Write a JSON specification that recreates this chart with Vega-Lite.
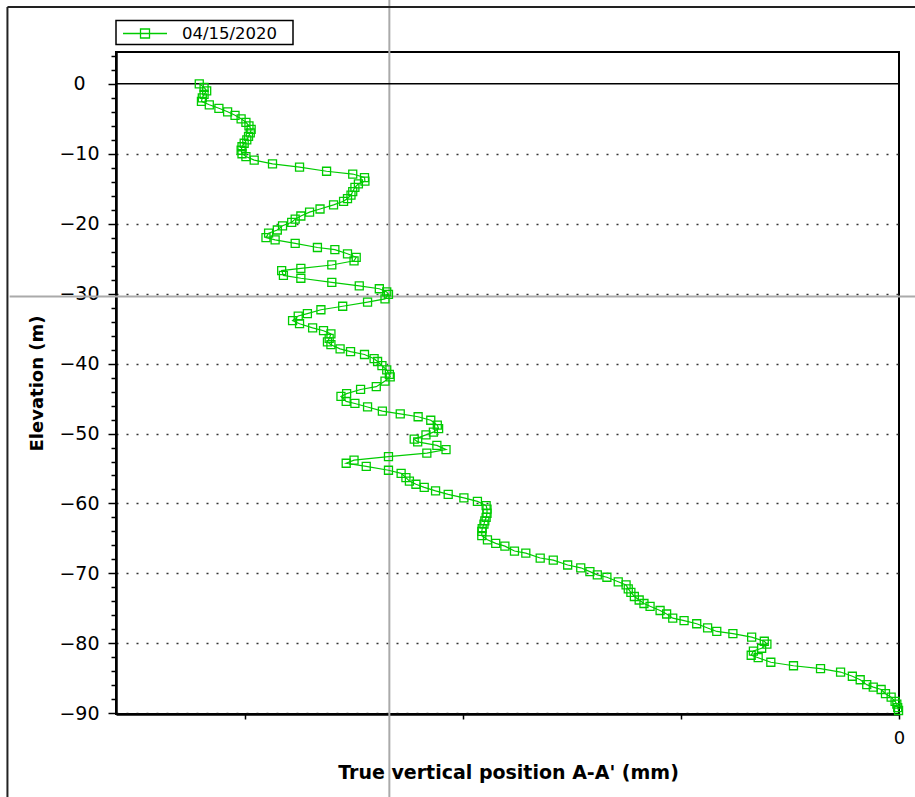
{
  "$schema": "https://vega.github.io/schema/vega-lite/v6.json",
  "width": 783,
  "height": 662,
  "autosize": {"type": "none"},
  "padding": {"left": 116, "top": 52, "right": 16, "bottom": 83},
  "background": "white",
  "config": {
    "view": {"stroke": "black", "strokeWidth": 2},
    "font": "DejaVu Sans",
    "legend": {"strokeWidth": 1.5},
    "axisX": {
      "labelFont": "DejaVu Sans",
      "labelFontSize": 18,
      "labelColor": "black",
      "labelPadding": 10,
      "labelFlush": false,
      "labelOverlap": false,
      "tickColor": "black",
      "tickWidth": 1.5,
      "domainColor": "black",
      "domainWidth": 2.5,
      "grid": false,
      "titleFont": "DejaVu Sans",
      "titleFontWeight": "bold",
      "titleFontSize": 19,
      "titleColor": "black",
      "titleX": 392,
      "titleY": 58,
      "titleAlign": "center",
      "titleBaseline": "middle"
    },
    "axisY": {
      "labelFont": "DejaVu Sans",
      "labelFontSize": 19,
      "labelColor": "black",
      "labelAlign": "center",
      "labelBaseline": "middle",
      "labelPadding": 29,
      "labelOverlap": false,
      "labelFlush": false,
      "tickSize": {"condition": {"test": "datum.value % 10 === 0", "value": 8}, "value": 5},
      "tickColor": "black",
      "tickWidth": 1.5,
      "domainColor": "black",
      "domainWidth": 2.5,
      "grid": true,
      "gridColor": "#333333",
      "gridDash": [2, 8],
      "gridWidth": 1.5,
      "gridOpacity": {"condition": {"test": "datum.value % 10 !== 0 || datum.value === 0", "value": 0}, "value": 1},
      "titleFont": "DejaVu Sans",
      "titleFontWeight": "bold",
      "titleFontSize": 18,
      "titleColor": "black",
      "titleAngle": -90,
      "titleX": -79,
      "titleY": 331,
      "titleAlign": "center",
      "titleBaseline": "middle"
    }
  },
  "data": {"values": [{"note": "reference lines"}]},
  "layer": [
    {
      "mark": {"type": "rule", "color": "#aaaaaa", "strokeWidth": 2, "clip": false},
      "encoding": {
        "x": {"datum": -11.69, "type": "quantitative", "scale": {"domain": [-17.96, 0], "nice": false, "zero": false}, "axis": {"orient": "bottom", "title": "True vertical position A-A' (mm)", "values": [-15, -10, -5, 0], "tickCount": 100, "labelExpr": "datum.value === 0 ? '0' : ''", "tickSize": 5}},
        "y": {"datum": 13, "type": "quantitative", "scale": {"domain": [-90.1, 4.55], "nice": false, "zero": false}, "axis": {"orient": "left", "title": "Elevation (m)", "tickCount": 100, "values": [4, 2, 0, -2, -4, -6, -8, -10, -12, -14, -16, -18, -20, -22, -24, -26, -28, -30, -32, -34, -36, -38, -40, -42, -44, -46, -48, -50, -52, -54, -56, -58, -60, -62, -64, -66, -68, -70, -72, -74, -76, -78, -80, -82, -84, -86, -88, -90], "labelExpr": "datum.value % 10 === 0 ? datum.label : ''"}},
        "y2": {"datum": -110}
      }
    },
    {
      "mark": {"type": "rule", "color": "#aaaaaa", "strokeWidth": 2, "clip": false},
      "encoding": {
        "y": {"datum": -30.39, "type": "quantitative"},
        "x": {"datum": -20.4, "type": "quantitative"},
        "x2": {"datum": 0.5}
      }
    },
    {
      "mark": {"type": "rule", "color": "#222222", "strokeWidth": 2, "clip": false},
      "encoding": {
        "x": {"datum": -20.45, "type": "quantitative"},
        "y": {"datum": 10.98, "type": "quantitative"},
        "y2": {"datum": -110}
      }
    },
    {
      "mark": {"type": "rule", "color": "#222222", "strokeWidth": 2, "clip": false},
      "encoding": {
        "y": {"datum": 10.98, "type": "quantitative"},
        "x": {"datum": -20.45, "type": "quantitative"},
        "x2": {"datum": 1}
      }
    },
    {
      "mark": {"type": "rule", "color": "black", "strokeWidth": 1.5},
      "encoding": {"y": {"datum": 0, "type": "quantitative"}}
    },
    {
      "data": {
        "values": [
          {"elevation": 0, "position": -16.05},
          {"elevation": -0.5, "position": -15.94},
          {"elevation": -1.0, "position": -15.88},
          {"elevation": -1.5, "position": -15.94},
          {"elevation": -2.0, "position": -15.98},
          {"elevation": -2.5, "position": -16.0},
          {"elevation": -3.0, "position": -15.82},
          {"elevation": -3.5, "position": -15.6},
          {"elevation": -4.0, "position": -15.4},
          {"elevation": -4.5, "position": -15.23},
          {"elevation": -5.0, "position": -15.09},
          {"elevation": -5.5, "position": -14.98},
          {"elevation": -6.0, "position": -14.91},
          {"elevation": -6.5, "position": -14.86},
          {"elevation": -7.0, "position": -14.88},
          {"elevation": -7.5, "position": -14.92},
          {"elevation": -8.0, "position": -14.96},
          {"elevation": -8.5, "position": -15.02},
          {"elevation": -9.0, "position": -15.07},
          {"elevation": -9.5, "position": -15.09},
          {"elevation": -10.0, "position": -15.07},
          {"elevation": -10.4, "position": -14.98},
          {"elevation": -10.9, "position": -14.79},
          {"elevation": -11.45, "position": -14.37},
          {"elevation": -11.9, "position": -13.75},
          {"elevation": -12.5, "position": -13.13},
          {"elevation": -12.9, "position": -12.53},
          {"elevation": -13.4, "position": -12.26},
          {"elevation": -13.9, "position": -12.25},
          {"elevation": -14.3, "position": -12.4},
          {"elevation": -14.8, "position": -12.48},
          {"elevation": -15.4, "position": -12.53},
          {"elevation": -15.9, "position": -12.57},
          {"elevation": -16.4, "position": -12.65},
          {"elevation": -16.8, "position": -12.74},
          {"elevation": -17.3, "position": -12.97},
          {"elevation": -17.9, "position": -13.28},
          {"elevation": -18.35, "position": -13.52},
          {"elevation": -18.9, "position": -13.72},
          {"elevation": -19.35, "position": -13.85},
          {"elevation": -19.8, "position": -13.93},
          {"elevation": -20.3, "position": -14.14},
          {"elevation": -20.9, "position": -14.26},
          {"elevation": -21.35, "position": -14.46},
          {"elevation": -22.0, "position": -14.52},
          {"elevation": -22.3, "position": -14.31},
          {"elevation": -22.8, "position": -13.85},
          {"elevation": -23.4, "position": -13.34},
          {"elevation": -23.7, "position": -12.94},
          {"elevation": -24.3, "position": -12.65},
          {"elevation": -24.8, "position": -12.45},
          {"elevation": -25.3, "position": -12.5},
          {"elevation": -25.9, "position": -13.01},
          {"elevation": -26.4, "position": -13.72},
          {"elevation": -26.7, "position": -14.16},
          {"elevation": -27.4, "position": -14.12},
          {"elevation": -27.8, "position": -13.72},
          {"elevation": -28.4, "position": -13.01},
          {"elevation": -28.9, "position": -12.38},
          {"elevation": -29.3, "position": -11.92},
          {"elevation": -29.75, "position": -11.75},
          {"elevation": -30.1, "position": -11.71},
          {"elevation": -30.75, "position": -11.79},
          {"elevation": -31.2, "position": -12.19},
          {"elevation": -31.8, "position": -12.76},
          {"elevation": -32.3, "position": -13.26},
          {"elevation": -32.85, "position": -13.57},
          {"elevation": -33.2, "position": -13.78},
          {"elevation": -33.85, "position": -13.91},
          {"elevation": -34.3, "position": -13.75},
          {"elevation": -34.9, "position": -13.45},
          {"elevation": -35.3, "position": -13.2},
          {"elevation": -35.75, "position": -13.03},
          {"elevation": -36.4, "position": -13.07},
          {"elevation": -36.9, "position": -13.11},
          {"elevation": -37.3, "position": -13.03},
          {"elevation": -37.9, "position": -12.82},
          {"elevation": -38.3, "position": -12.58},
          {"elevation": -38.7, "position": -12.26},
          {"elevation": -39.3, "position": -12.04},
          {"elevation": -39.7, "position": -11.96},
          {"elevation": -40.3, "position": -11.86},
          {"elevation": -40.9, "position": -11.75},
          {"elevation": -41.55, "position": -11.69},
          {"elevation": -41.9, "position": -11.67},
          {"elevation": -42.5, "position": -11.79},
          {"elevation": -43.3, "position": -11.99},
          {"elevation": -43.7, "position": -12.35},
          {"elevation": -44.3, "position": -12.67},
          {"elevation": -44.7, "position": -12.8},
          {"elevation": -45.4, "position": -12.68},
          {"elevation": -45.7, "position": -12.48},
          {"elevation": -46.2, "position": -12.19},
          {"elevation": -46.8, "position": -11.85},
          {"elevation": -47.2, "position": -11.44},
          {"elevation": -47.6, "position": -11.03},
          {"elevation": -48.1, "position": -10.74},
          {"elevation": -48.8, "position": -10.59},
          {"elevation": -49.3, "position": -10.56},
          {"elevation": -49.8, "position": -10.68},
          {"elevation": -50.2, "position": -10.85},
          {"elevation": -50.8, "position": -11.12},
          {"elevation": -51.2, "position": -11.04},
          {"elevation": -51.7, "position": -10.6},
          {"elevation": -52.3, "position": -10.39},
          {"elevation": -52.8, "position": -10.83},
          {"elevation": -53.3, "position": -11.71},
          {"elevation": -53.8, "position": -12.5},
          {"elevation": -54.25, "position": -12.68},
          {"elevation": -54.7, "position": -12.22},
          {"elevation": -55.25, "position": -11.71},
          {"elevation": -55.7, "position": -11.42},
          {"elevation": -56.3, "position": -11.31},
          {"elevation": -56.8, "position": -11.23},
          {"elevation": -57.25, "position": -11.08},
          {"elevation": -57.7, "position": -10.89},
          {"elevation": -58.2, "position": -10.63},
          {"elevation": -58.7, "position": -10.34},
          {"elevation": -59.2, "position": -9.98},
          {"elevation": -59.7, "position": -9.67},
          {"elevation": -60.3, "position": -9.47},
          {"elevation": -60.8, "position": -9.45},
          {"elevation": -61.4, "position": -9.45},
          {"elevation": -62.0, "position": -9.47},
          {"elevation": -62.5, "position": -9.5},
          {"elevation": -62.95, "position": -9.52},
          {"elevation": -63.6, "position": -9.56},
          {"elevation": -64.0, "position": -9.57},
          {"elevation": -64.6, "position": -9.57},
          {"elevation": -65.2, "position": -9.44},
          {"elevation": -65.7, "position": -9.25},
          {"elevation": -66.1, "position": -9.04},
          {"elevation": -66.8, "position": -8.82},
          {"elevation": -67.1, "position": -8.56},
          {"elevation": -67.8, "position": -8.23},
          {"elevation": -68.1, "position": -7.93},
          {"elevation": -68.8, "position": -7.6},
          {"elevation": -69.2, "position": -7.3},
          {"elevation": -69.75, "position": -7.09},
          {"elevation": -70.2, "position": -6.92},
          {"elevation": -70.55, "position": -6.7},
          {"elevation": -71.2, "position": -6.44},
          {"elevation": -71.65, "position": -6.26},
          {"elevation": -72.2, "position": -6.21},
          {"elevation": -72.7, "position": -6.15},
          {"elevation": -73.3, "position": -6.07},
          {"elevation": -73.8, "position": -5.96},
          {"elevation": -74.3, "position": -5.85},
          {"elevation": -74.7, "position": -5.71},
          {"elevation": -75.3, "position": -5.48},
          {"elevation": -75.8, "position": -5.33},
          {"elevation": -76.4, "position": -5.19},
          {"elevation": -76.75, "position": -4.93},
          {"elevation": -77.2, "position": -4.64},
          {"elevation": -77.8, "position": -4.39},
          {"elevation": -78.3, "position": -4.18},
          {"elevation": -78.6, "position": -3.81},
          {"elevation": -79.1, "position": -3.38},
          {"elevation": -79.7, "position": -3.09},
          {"elevation": -80.1, "position": -3.03},
          {"elevation": -80.7, "position": -3.15},
          {"elevation": -81.1, "position": -3.34},
          {"elevation": -81.7, "position": -3.39},
          {"elevation": -82.05, "position": -3.23},
          {"elevation": -82.7, "position": -2.94},
          {"elevation": -83.2, "position": -2.42},
          {"elevation": -83.6, "position": -1.8},
          {"elevation": -84.1, "position": -1.34},
          {"elevation": -84.7, "position": -1.07},
          {"elevation": -85.2, "position": -0.89},
          {"elevation": -85.9, "position": -0.74},
          {"elevation": -86.25, "position": -0.59},
          {"elevation": -86.6, "position": -0.41},
          {"elevation": -87.2, "position": -0.31},
          {"elevation": -87.7, "position": -0.18},
          {"elevation": -88.3, "position": -0.09},
          {"elevation": -88.7, "position": -0.05},
          {"elevation": -89.2, "position": -0.03},
          {"elevation": -89.6, "position": -0.01}
        ]
      },
      "encoding": {
        "x": {
          "field": "position",
          "type": "quantitative",
          "scale": {"domain": [-17.96, 0], "nice": false, "zero": false},
          "axis": {"orient": "bottom", "title": "True vertical position A-A' (mm)", "values": [-15, -10, -5, 0], "tickCount": 100, "labelExpr": "datum.value === 0 ? '0' : ''", "tickSize": 5}
        },
        "y": {
          "field": "elevation",
          "type": "quantitative",
          "scale": {"domain": [-90.1, 4.55], "nice": false, "zero": false},
          "axis": {"orient": "left", "title": "Elevation (m)", "tickCount": 100, "values": [4, 2, 0, -2, -4, -6, -8, -10, -12, -14, -16, -18, -20, -22, -24, -26, -28, -30, -32, -34, -36, -38, -40, -42, -44, -46, -48, -50, -52, -54, -56, -58, -60, -62, -64, -66, -68, -70, -72, -74, -76, -78, -80, -82, -84, -86, -88, -90], "labelExpr": "datum.value % 10 === 0 ? datum.label : ''"}
        },
        "color": {
          "datum": "04/15/2020",
          "type": "nominal",
          "scale": {"range": ["#00cc00"]},
          "legend": {
            "orient": "none",
            "legendX": 0,
            "legendY": -31.5,
            "title": null,
            "symbolType": "M-2.2,0H2.2M-0.45,-0.45H0.45V0.45H-0.45ZM14.3,0",
            "symbolSize": 400,
            "symbolStrokeWidth": 1.3,
            "symbolFillColor": "transparent",
            "symbolOffset": 16,
            "labelOffset": 26,
            "labelFont": "DejaVu Sans",
            "labelFontSize": 16.5,
            "labelColor": "black",
            "strokeColor": "black",
            "padding": 2
          }
        },
        "order": {"field": "elevation", "sort": "descending"}
      },
      "layer": [
        {"mark": {"type": "line", "strokeWidth": 1.2}},
        {"mark": {"type": "point", "shape": "square", "filled": false, "size": 64, "strokeWidth": 1.3, "opacity": 1}}
      ]
    }
  ]
}
